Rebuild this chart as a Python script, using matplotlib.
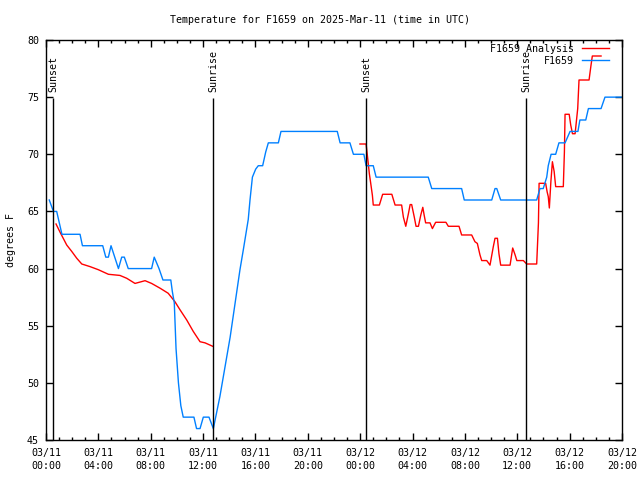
import numpy as np
import pandas as pd
import matplotlib
matplotlib.use("Agg")
import matplotlib.pyplot as plt
import matplotlib.dates as mdates

# ---------------- data ----------------
obs_times = ["2025-03-11 00:15", "2025-03-11 00:34", "2025-03-11 00:49", "2025-03-11 01:13",
             "2025-03-11 02:36", "2025-03-11 02:47", "2025-03-11 04:20", "2025-03-11 04:34",
             "2025-03-11 04:46", "2025-03-11 04:58", "2025-03-11 05:32", "2025-03-11 05:47",
             "2025-03-11 05:59", "2025-03-11 06:17", "2025-03-11 08:04", "2025-03-11 08:16",
             "2025-03-11 08:38", "2025-03-11 08:56", "2025-03-11 09:32", "2025-03-11 09:39",
             "2025-03-11 09:48", "2025-03-11 09:56", "2025-03-11 10:07", "2025-03-11 10:18",
             "2025-03-11 10:29", "2025-03-11 11:18", "2025-03-11 11:30", "2025-03-11 11:46",
             "2025-03-11 12:01", "2025-03-11 12:27", "2025-03-11 12:47", "2025-03-11 13:17",
             "2025-03-11 14:04", "2025-03-11 14:49", "2025-03-11 15:04", "2025-03-11 15:27",
             "2025-03-11 15:35", "2025-03-11 15:46", "2025-03-11 16:01", "2025-03-11 16:13",
             "2025-03-11 16:33", "2025-03-11 16:47", "2025-03-11 16:59", "2025-03-11 17:45",
             "2025-03-11 17:57", "2025-03-11 22:15", "2025-03-11 22:28", "2025-03-11 23:13",
             "2025-03-11 23:29", "2025-03-12 00:17", "2025-03-12 00:27", "2025-03-12 01:00",
             "2025-03-12 01:13", "2025-03-12 05:12", "2025-03-12 05:28", "2025-03-12 07:45",
             "2025-03-12 07:57", "2025-03-12 10:03", "2025-03-12 10:18", "2025-03-12 10:26",
             "2025-03-12 10:44", "2025-03-12 13:29", "2025-03-12 13:44", "2025-03-12 13:59",
             "2025-03-12 14:15", "2025-03-12 14:22", "2025-03-12 14:35", "2025-03-12 14:56",
             "2025-03-12 15:11", "2025-03-12 15:39", "2025-03-12 16:02", "2025-03-12 16:38",
             "2025-03-12 16:47", "2025-03-12 17:14", "2025-03-12 17:26", "2025-03-12 18:24",
             "2025-03-12 18:42", "2025-03-12 20:00"]
obs_temps = [66, 65, 65, 63,
             63, 62, 62, 61,
             61, 62, 60, 61,
             61, 60, 60, 61,
             60, 59, 59, 58,
             57, 53, 50, 48,
             47, 47, 46, 46,
             47, 47, 46, 48.8,
             54, 59.9, 61.6, 64.3,
             66, 68, 68.7, 69,
             69, 70.2, 71, 71,
             72, 72, 71, 71,
             70, 70, 69, 69,
             68, 68, 67, 67,
             66, 66, 67, 67,
             66, 66, 67, 67,
             68, 69, 70, 70,
             71, 71, 72, 72,
             73, 73, 74, 74,
             75, 75]

ana_times = ["2025-03-11 00:46", "2025-03-11 01:04", "2025-03-11 01:19", "2025-03-11 01:35",
             "2025-03-11 01:58", "2025-03-11 02:21", "2025-03-11 02:44", "2025-03-11 03:22",
             "2025-03-11 04:00", "2025-03-11 04:46", "2025-03-11 05:39", "2025-03-11 06:10",
             "2025-03-11 06:48", "2025-03-11 07:34", "2025-03-11 08:04", "2025-03-11 08:43",
             "2025-03-11 09:20", "2025-03-11 09:51", "2025-03-11 10:14", "2025-03-11 10:45",
             "2025-03-11 11:15", "2025-03-11 11:46", "2025-03-11 12:09", "2025-03-11 12:44",
             "2025-03-11 18:00",
             "2025-03-11 23:59", "2025-03-12 00:27", "2025-03-12 00:30", "2025-03-12 00:37",
             "2025-03-12 00:42", "2025-03-12 00:48", "2025-03-12 00:56", "2025-03-12 01:00",
             "2025-03-12 01:28", "2025-03-12 01:43", "2025-03-12 02:25", "2025-03-12 02:40",
             "2025-03-12 03:10", "2025-03-12 03:18", "2025-03-12 03:29", "2025-03-12 03:41",
             "2025-03-12 03:49", "2025-03-12 03:56", "2025-03-12 04:08", "2025-03-12 04:16",
             "2025-03-12 04:27", "2025-03-12 04:38", "2025-03-12 04:47", "2025-03-12 04:53",
             "2025-03-12 05:00", "2025-03-12 05:20", "2025-03-12 05:31", "2025-03-12 05:46",
             "2025-03-12 06:33", "2025-03-12 06:44", "2025-03-12 07:33", "2025-03-12 07:45",
             "2025-03-12 08:31", "2025-03-12 08:46", "2025-03-12 08:57", "2025-03-12 09:09",
             "2025-03-12 09:17", "2025-03-12 09:40", "2025-03-12 09:55", "2025-03-12 10:10",
             "2025-03-12 10:18", "2025-03-12 10:29", "2025-03-12 10:36", "2025-03-12 10:44",
             "2025-03-12 11:27", "2025-03-12 11:39", "2025-03-12 11:50", "2025-03-12 11:58",
             "2025-03-12 12:28", "2025-03-12 12:43", "2025-03-12 13:29", "2025-03-12 13:37",
             "2025-03-12 13:40", "2025-03-12 14:10", "2025-03-12 14:17", "2025-03-12 14:22",
             "2025-03-12 14:27", "2025-03-12 14:34", "2025-03-12 14:41", "2025-03-12 14:49",
             "2025-03-12 14:56", "2025-03-12 15:31", "2025-03-12 15:36", "2025-03-12 15:39",
             "2025-03-12 15:58", "2025-03-12 16:05", "2025-03-12 16:13", "2025-03-12 16:25",
             "2025-03-12 16:37", "2025-03-12 16:43", "2025-03-12 17:29", "2025-03-12 17:38",
             "2025-03-12 17:44", "2025-03-12 18:24"]
ana_temps = [63.9, 63.2, 62.65, 62.06,
             61.5, 60.9, 60.4, 60.17,
             59.9, 59.5, 59.4, 59.15,
             58.7, 58.94, 58.7, 58.28,
             57.84, 57.1, 56.4, 55.5,
             54.5, 53.6, 53.5, 53.2,
             np.nan,
             70.9, 70.9, 70.4, 69.2,
             68.3, 67.5, 66.4, 65.56,
             65.56, 66.5, 66.5, 65.56,
             65.56, 64.5, 63.7, 64.8,
             65.6, 65.6, 64.5, 63.7,
             63.7, 64.7, 65.36, 64.7,
             64.0, 64.0, 63.5, 64.05,
             64.05, 63.7, 63.7, 62.94,
             62.94, 62.35, 62.2, 61.2,
             60.7, 60.7, 60.3, 61.9,
             62.65, 62.65, 61.3, 60.3,
             60.3, 61.8, 61.2, 60.7,
             60.7, 60.4, 60.4, 64.0,
             67.46, 67.46, 66.7, 66.3,
             65.3, 67.6, 69.35, 68.5,
             67.17, 67.17, 70.2, 73.5,
             73.5, 72.56, 71.8, 71.8,
             74.0, 76.5, 76.5, 77.8,
             78.6, 78.6]

sun_times = ["2025-03-11 00:32", "2025-03-11 12:45", "2025-03-12 00:27", "2025-03-12 12:40"]
sun_labels = ["Sunset", "Sunrise", "Sunset", "Sunrise"]

series_names = ["F1659 Analysis", "F1659"]
title = "Temperature for F1659 on 2025-Mar-11 (time in UTC)"
ylabel = "degrees F"
x_start, x_end = "2025-03-11 00:00", "2025-03-12 20:00"
y_min, y_max = 45, 80

# ---------------- plot ----------------
FONT = "DejaVu Sans Mono"
FS = 7.2
plt.rcParams['font.family'] = [FONT, 'DejaVu Sans']
plt.rcParams['font.size'] = FS

fig = plt.figure(figsize=(6.4, 4.8), dpi=100)
ax = fig.add_axes([46/640, 1-440/480, 576/640, 400/480])

ot = pd.to_datetime(obs_times)
at = pd.to_datetime(ana_times)
st = pd.to_datetime(sun_times)

ax.plot(at, ana_temps, color="#ff0000", lw=1.0, label=series_names[0])
ax.plot(ot, obs_temps, color="#0080ff", lw=1.0, label=series_names[1])

ax.vlines(st, y_min, 74.9, color="black", lw=1.0)
for t, lab in zip(st, sun_labels):
    ax.text(t, 75.45, lab, rotation=90, ha="center", va="bottom", fontsize=FS)

ax.set_xlim(pd.Timestamp(x_start), pd.Timestamp(x_end))
ax.set_ylim(y_min, y_max)
ax.set_yticks(np.arange(y_min, y_max + 1, 5))
ax.xaxis.set_major_locator(mdates.HourLocator(byhour=range(0, 24, 4)))
ax.xaxis.set_minor_locator(mdates.HourLocator())
ax.xaxis.set_major_formatter(mdates.DateFormatter("%m/%d\n%H:%M"))
for lbl in ax.get_xticklabels():
    lbl.set_linespacing(1.3)

ax.tick_params(which="both", direction="in", top=True, right=True, width=1.0, colors="black")
ax.tick_params(which="major", length=5, pad=5)
ax.tick_params(which="minor", length=2.5)
ax.tick_params(axis="x", which="major", pad=6)
for lbl in ax.get_xticklabels() + ax.get_yticklabels():
    lbl.set_fontsize(FS)
for sp in ax.spines.values():
    sp.set_linewidth(1.0)
    sp.set_color("black")

ax.set_ylabel(ylabel, fontsize=FS, labelpad=8)
fig.text(0.5, 1 - 20/480, title, ha="center", va="center", fontsize=FS)

ax.legend(loc="upper right", bbox_to_anchor=((609.3-46)/576, (440-44)/400),
          markerfirst=False, frameon=False, borderpad=0, borderaxespad=0,
          handlelength=2.76, handletextpad=0.77, labelspacing=0.2, fontsize=FS)

fig.savefig("out.png", dpi=100)
